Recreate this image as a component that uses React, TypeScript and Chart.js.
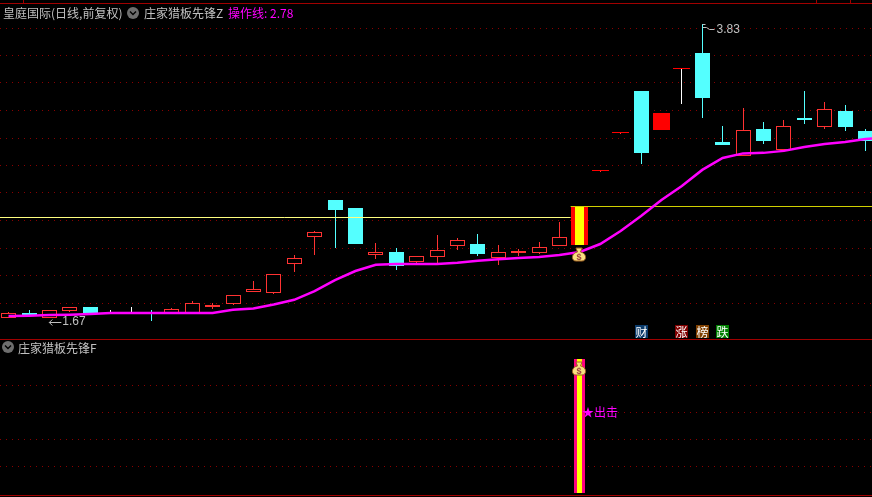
import React, { useEffect, useRef } from "react";
import { Chart, registerables } from "chart.js";

Chart.register(...registerables);

const indexes = Array.from({ length: 43 }, (_, i) => i);
const opens = [1.67,1.694,1.67,1.703,1.722,1.694,1.694,1.694,1.694,1.696,1.722,1.737,1.797,1.792,1.945,2.099,2.33,2.278,1.995,2.012,1.956,1.984,2.046,2.058,1.979,2.006,2.006,2.046,2.052,2.53,2.816,3.17,2.84,3.373,3.529,2.745,2.639,2.848,2.684,2.938,2.864,2.996,2.831];
const closes = [1.694,1.684,1.708,1.722,1.694,1.694,1.694,1.694,1.713,1.742,1.732,1.782,1.812,1.891,1.979,2.129,2.265,2.058,2.012,1.934,1.99,2.023,2.081,2.001,2.012,2.018,2.041,2.099,2.29,2.53,2.816,2.662,2.979,3.373,3.108,2.722,2.84,2.753,2.872,2.921,3.013,2.864,2.753];
const highs = [1.699,1.708,1.708,1.722,1.722,1.708,1.722,1.708,1.717,1.752,1.742,1.782,1.854,1.891,1.995,2.135,2.33,2.278,2.064,2.035,1.99,2.111,2.093,2.117,2.052,2.029,2.07,2.19,2.29,2.53,2.816,3.17,2.979,3.373,3.83,2.872,3.022,2.905,2.921,3.17,3.073,3.047,2.848];
const lows = [1.67,1.684,1.67,1.698,1.689,1.694,1.694,1.656,1.694,1.696,1.713,1.732,1.797,1.787,1.902,1.995,2.035,2.058,1.973,1.912,1.945,1.945,2.023,1.99,1.94,1.99,2.001,2.046,2.052,2.53,2.816,2.58,2.84,3.056,2.938,2.722,2.639,2.73,2.684,2.888,2.848,2.831,2.677];
const operationLine = [1.68,1.681,1.684,1.686,1.689,1.694,1.694,1.694,1.694,1.694,1.694,1.709,1.716,1.735,1.758,1.802,1.859,1.907,1.941,1.945,1.945,1.945,1.952,1.963,1.971,1.979,1.984,1.995,2.012,2.058,2.135,2.227,2.33,2.424,2.537,2.624,2.658,2.662,2.677,2.707,2.73,2.745,2.769,2.78];
const whiteWicks = [5, 6, 33];
const solidCandles = [32];
const limitCandle = 28;
const gridPrices = [3.787,3.504,3.243,3.0,2.776,2.569,2.377,2.199,2.035,1.883,1.742];
const lowerGrid = [0.2, 0.4, 0.6, 0.8];
const resistancePrice = 2.221;
const limitPrice = 2.29;
const signalRange = [0, 1];
const highLabel = "3.83";
const lowLabel = "1.67";
const badges = [
  { index: 31, text: "财", color: "#0c3c6c" },
  { index: 33, text: "涨", color: "#800000" },
  { index: 34, text: "榜", color: "#804000" },
  { index: 35, text: "跌", color: "#008000" },
];

const RED = "#ff3232";
const CYAN = "#54ffff";
const FRAME = "#a00000";
const CJK = '"Noto Sans CJK SC", sans-serif';
const NUM = '"Liberation Sans", sans-serif';

const isFlat = (i: number) => opens[i] === closes[i];
const isSpecial = (i: number) => solidCandles.includes(i) || i === limitCandle;

function drawBag(ctx: CanvasRenderingContext2D, x: number, y: number) {
  ctx.save();
  ctx.fillStyle = "#f8e080";
  ctx.strokeStyle = "#a06020";
  ctx.lineWidth = 1;
  ctx.beginPath();
  ctx.moveTo(x - 3, y - 7);
  ctx.lineTo(x + 3, y - 7);
  ctx.lineTo(x + 1.5, y - 3);
  ctx.bezierCurveTo(x + 8, y - 2, x + 8, y + 6, x + 3, y + 6);
  ctx.lineTo(x - 3, y + 6);
  ctx.bezierCurveTo(x - 8, y + 6, x - 8, y - 2, x - 1.5, y - 3);
  ctx.closePath();
  ctx.fill();
  ctx.stroke();
  ctx.fillStyle = "#a04040";
  ctx.font = `bold 9px ${NUM}`;
  ctx.textAlign = "center";
  ctx.textBaseline = "middle";
  ctx.fillText("$", x, y + 2);
  ctx.restore();
}

const paperPlugin = {
  id: "paper",
  afterDatasetsUpdate(chart: any) {
    chart.data.datasets.forEach((ds: any, di: number) => {
      const meta = chart.getDatasetMeta(di);
      if (ds.type === "bar") {
        meta.data.forEach((el: any) => {
          el.x = Math.floor(el.x + 0.1) + 0.5;
          el.y = Math.round(el.y);
          el.base = Math.round(el.base);
          if (el.y === el.base) el.base = el.y + 1;
        });
      } else if (ds.snap) {
        meta.data.forEach((el: any) => {
          el.y = Math.floor(el.y) + 0.5;
        });
      }
    });
  },
  afterDatasetsDraw(chart: any) {
    const { ctx, scales } = chart;
    const { x, y, y2 } = scales;
    ctx.save();
    ctx.fillStyle = FRAME;
    ctx.fillRect(0, Math.round(y.top), 872, 1);
    ctx.fillRect(0, Math.round(y.bottom), 872, 1);
    ctx.fillRect(0, Math.round(y2.bottom), 872, 1);
    ctx.fillRect(23, 0, 1, 3);
    ctx.fillRect(816, 0, 1, 3);
    ctx.fillRect(850, 0, 1, 3);

    const bx = Math.floor(x.getPixelForValue(limitCandle));
    drawBag(ctx, bx, y.getPixelForValue(1.995));
    drawBag(ctx, bx, y2.getPixelForValue(0.925));

    ctx.textBaseline = "middle";
    ctx.font = `12px ${NUM}`;
    ctx.fillStyle = "#c0c0c0";
    ctx.strokeStyle = "#c0c0c0";
    ctx.lineWidth = 1;
    const lowX = x.getPixelForValue(2);
    const lowY = y.getPixelForValue(1.67) + 4;
    ctx.fillText(lowLabel, lowX + 13, lowY);
    ctx.beginPath();
    ctx.moveTo(lowX + 12, Math.floor(lowY) + 0.5);
    ctx.lineTo(lowX, Math.floor(lowY) + 0.5);
    ctx.lineTo(lowX + 3, Math.floor(lowY) - 2.5);
    ctx.moveTo(lowX, Math.floor(lowY) + 0.5);
    ctx.lineTo(lowX + 3, Math.floor(lowY) + 3.5);
    ctx.stroke();
    const hiX = Math.floor(x.getPixelForValue(34) + 0.1) + 0.5;
    const hiY = y.getPixelForValue(3.83);
    ctx.fillText(highLabel, hiX + 14, hiY + 6);
    ctx.beginPath();
    ctx.moveTo(hiX, Math.floor(hiY) + 0.5);
    ctx.lineTo(hiX + 3, Math.floor(hiY) + 0.5);
    ctx.moveTo(hiX, Math.floor(hiY) + 3.5);
    ctx.lineTo(hiX + 4, Math.floor(hiY) + 3.5);
    ctx.lineTo(hiX + 7, Math.floor(hiY) + 5.5);
    ctx.lineTo(hiX + 12, Math.floor(hiY) + 5.5);
    ctx.stroke();

    ctx.font = `12px ${CJK}`;
    ctx.textAlign = "center";
    badges.forEach((b) => {
      const cx = Math.floor(x.getPixelForValue(b.index) + 0.1) + 0.5;
      ctx.fillStyle = b.color;
      ctx.fillRect(cx - 6.5, 325, 13, 13);
      ctx.fillStyle = "#ffffff";
      ctx.fillText(b.text, cx, 332);
    });

    ctx.textAlign = "left";
    ctx.fillStyle = "#ff00ff";
    ctx.fillText("★出击", bx + 3, y2.getPixelForValue(0.6));

    [[133, 13], [8, 347]].forEach(([cx, cy]) => {
      ctx.fillStyle = "#6e6e6e";
      ctx.beginPath();
      ctx.arc(cx, cy, 6, 0, Math.PI * 2);
      ctx.fill();
      ctx.strokeStyle = "#000000";
      ctx.lineWidth = 1.4;
      ctx.beginPath();
      ctx.moveTo(cx - 3, cy - 1.5);
      ctx.lineTo(cx, cy + 1.5);
      ctx.lineTo(cx + 3, cy - 1.5);
      ctx.stroke();
    });
    ctx.restore();
  },
};

const spanStyle = (left: number, top: number, color: string): React.CSSProperties => ({
  position: "absolute",
  left,
  top,
  color,
  font: `12px/16px ${CJK}`,
  whiteSpace: "pre",
});

export default function App() {
  const ref = useRef<HTMLCanvasElement>(null);
  useEffect(() => {
    const bar = (over: any) => ({
      type: "bar",
      grouped: false,
      inflateAmount: 0,
      borderSkipped: false,
      yAxisID: "y",
      ...over,
    });
    const wicks = indexes.map((i) => ({ x: i, y: [lows[i], highs[i]] }));
    const wickColors = indexes.map((i) =>
      whiteWicks.includes(i) ? "#ffffff" : closes[i] < opens[i] || i === 7 ? CYAN : RED
    );
    const pick = (test: (i: number) => boolean) =>
      indexes.filter(test).map((i) => ({ x: i, y: [opens[i], closes[i]] }));
    const chart = new Chart(ref.current as HTMLCanvasElement, {
      data: {
        datasets: [
          {
            type: "line",
            data: operationLine.map((v, i) => ({ x: i, y: v })),
            borderColor: "#ff00ff",
            borderWidth: 2.5,
            pointRadius: 0,
            tension: 0,
            yAxisID: "y",
          },
          {
            type: "line",
            snap: true,
            data: [
              { x: limitCandle - 0.45, y: limitPrice },
              { x: 44, y: limitPrice },
            ],
            borderColor: "#d0d000",
            borderWidth: 1,
            pointRadius: 0,
            yAxisID: "y",
          },
          {
            type: "line",
            snap: true,
            data: [
              { x: -1, y: resistancePrice },
              { x: limitCandle - 0.45, y: resistancePrice },
            ],
            borderColor: "#ffff80",
            borderWidth: 1,
            pointRadius: 0,
            yAxisID: "y",
          },
          bar({
            data: [{ x: limitCandle, y: signalRange }],
            barThickness: 5,
            backgroundColor: "#ffff00",
            yAxisID: "y2",
          }),
          bar({
            data: [{ x: limitCandle, y: signalRange }],
            barThickness: 11,
            backgroundColor: "#ff0080",
            yAxisID: "y2",
          }),
          bar({
            data: pick((i) => i === limitCandle),
            barThickness: 9,
            backgroundColor: "#ffff00",
          }),
          bar({
            data: pick((i) => isSpecial(i)),
            barThickness: 17,
            backgroundColor: "#ff0000",
          }),
          bar({
            data: pick((i) => isFlat(i) && i > 7),
            barThickness: 17,
            minBarLength: 1,
            backgroundColor: "#ff0000",
          }),
          bar({
            data: pick((i) => closes[i] < opens[i]),
            barThickness: 15,
            backgroundColor: CYAN,
          }),
          bar({
            data: pick((i) => closes[i] > opens[i] && !isSpecial(i)),
            barThickness: 15,
            backgroundColor: "#000000",
            borderColor: RED,
            borderWidth: 1,
          }),
          bar({ data: wicks, barThickness: 1, backgroundColor: wickColors }),
        ] as any,
      },
      options: {
        responsive: false,
        devicePixelRatio: 1,
        animation: false,
        events: [],
        layout: { padding: { top: 3, bottom: 2, left: 0, right: 0 } },
        plugins: { legend: { display: false }, tooltip: { enabled: false } },
        scales: {
          x: {
            type: "linear",
            min: -0.417,
            max: 42.32,
            offset: false,
            display: false,
          },
          y: {
            type: "logarithmic",
            min: 1.574,
            max: 4.064,
            position: "left",
            stack: "panels",
            stackWeight: 336,
            weight: 1,
            afterBuildTicks: (s: any) => {
              s.ticks = gridPrices.map((value) => ({ value }));
            },
            afterFit: (s: any) => {
              s.width = 0;
            },
            ticks: { display: false },
            border: { display: false, dash: [1, 5] },
            grid: { color: "#8a0000", drawTicks: false, lineWidth: 1 },
          },
          y2: {
            type: "linear",
            min: -0.015,
            max: 1.149,
            position: "left",
            stack: "panels",
            stackWeight: 156,
            weight: 0,
            afterBuildTicks: (s: any) => {
              s.ticks = lowerGrid.map((value) => ({ value }));
            },
            afterFit: (s: any) => {
              s.width = 0;
            },
            ticks: { display: false },
            border: { display: false, dash: [1, 5] },
            grid: { color: "#8a0000", drawTicks: false, lineWidth: 1 },
          },
        },
      } as any,
      plugins: [paperPlugin],
    });
    return () => chart.destroy();
  }, []);
  return (
    <div style={{ position: "fixed", left: 0, top: 0, width: 872, height: 497, background: "#000", overflow: "hidden" }}>
      <canvas ref={ref} width={872} height={497} style={{ display: "block" }} />
      <span style={spanStyle(3, 5, "#c0c0c0")}>皇庭国际(日线,前复权)</span>
      <span style={spanStyle(144, 5, "#c0c0c0")}>庄家猎板先锋Z</span>
      <span style={spanStyle(228, 5, "#ff00ff")}>操作线: 2.78</span>
      <span style={spanStyle(18, 340, "#c0c0c0")}>庄家猎板先锋F</span>
    </div>
  );
}
